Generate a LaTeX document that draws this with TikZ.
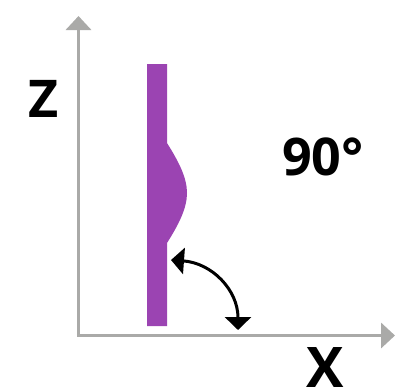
\documentclass[tikz,border=0pt]{standalone}
\usepackage{fontspec}
\setmainfont{Open Sans}
\usetikzlibrary{arrows.meta}
\definecolor{axisgray}{RGB}{170,170,168}
\definecolor{barpurple}{RGB}{155,68,178}
\tikzset{
  axis/.style={draw=axisgray, line width=3.5pt, -{Triangle[width=25pt,length=14pt]}},
  lbl/.style={font=\fontsize{52}{52}\selectfont\bfseries, inner sep=0pt, text=black},
  angarrow/.style={draw=black, line width=3pt, {Triangle[width=26pt,length=13pt]}-{Triangle[width=26pt,length=13pt]}}
}
\begin{document}
\begin{tikzpicture}[x=1pt,y=-1pt]
\useasboundingbox (0,0) rectangle (395,389);
\coordinate (O) at (78.5,335.5);
\coordinate (Ztip) at (78.5,16);
\coordinate (Xtip) at (395,335.5);
\draw[axis] (O) -- (Ztip);
\draw[axis] ([xshift=-1.75pt]O) -- (Xtip);
\fill[barpurple] (147,64) -- (167,64) -- (167,143)
  .. controls (179,162) and (187,178) .. (187,193)
  .. controls (187,208) and (179,224) .. (167,243)
  -- (167,326) -- (147,326) -- cycle;
\coordinate (A1) at (171,260);
\coordinate (A2) at (238,330);
\draw[angarrow] (A1) .. controls (212,263) and (238,290) .. (A2);
\node[lbl] (Z) at (44,98.5) {Z};
\node[lbl, font=\fontsize{56}{56}\selectfont\bfseries] (X) at (325,367) {X};
\node[lbl] (ang) at (323,157) {90°};
\end{tikzpicture}
\end{document}
